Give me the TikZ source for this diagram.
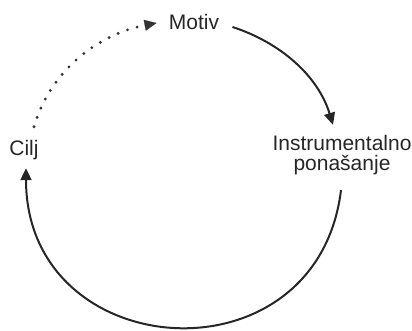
\documentclass[tikz,border=0pt]{standalone}
\usepackage{fontspec}
\setmainfont{Liberation Sans}
\usetikzlibrary{arrows.meta}
\tikzset{
  cylabel/.style={inner sep=2pt, font=\fontsize{10.5}{10}\selectfont, align=center, text=black!85},
  cyarrow/.style={line width=1pt, draw=black!85, -{Triangle[length=6pt,width=5.5pt]}},
  cydots/.style={line width=1.6pt, draw=black!80, line cap=round, dash pattern=on 0pt off 5pt,
    -{Triangle[length=6pt,width=5.5pt,line width=0.1pt]}},
}
\begin{document}
\begin{tikzpicture}[x=0.5pt, y=0.5pt]
\useasboundingbox (0,0) rectangle (412,331);
\node[cylabel] (mot) at (194,309) {Motiv};
\node[cylabel] (ins) at (342,176) {Instrumentalno\\ponašanje};
\node[cylabel] (cilj) at (24,181) {Cilj};
\draw[cyarrow] ([xshift=4.5pt,yshift=-2.5pt]mot.east) to[out=-18, in=107, looseness=0.93]
  ([xshift=-4.5pt,yshift=3pt]ins.north);
\draw[cyarrow] ([xshift=-0.5pt,yshift=-5.5pt]ins.south) to[out=-97, in=-90, looseness=1.6]
  ([xshift=1pt,yshift=-2pt]cilj.south);
\draw[cydots] ([xshift=5pt,yshift=4.5pt]cilj.north) to[out=74, in=191, looseness=0.94]
  ([xshift=-4pt,yshift=-0.5pt]mot.west);
\end{tikzpicture}
\end{document}
